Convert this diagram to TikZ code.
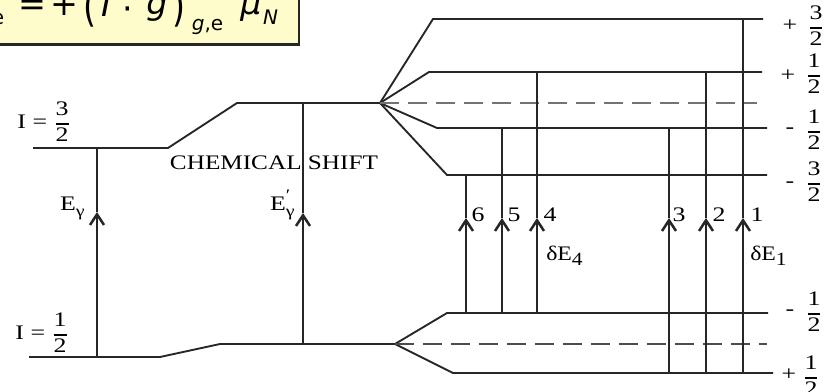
\documentclass[tikz,border=0pt]{standalone}
\usepackage{fontspec}
\setmainfont{Liberation Serif}
\newfontfamily\dvs{DejaVu Sans}[ItalicFont={DejaVu Sans Oblique}]
\usepackage{graphicx}
\usetikzlibrary{arrows.meta}
\newcommand{\sx}[1]{\scalebox{1.25}[1]{#1}}
\newcommand{\fr}[2]{\ensuremath{\displaystyle{\mbox{#1}\above 0.9pt\mbox{#2}}}}
\newcommand{\subsz}{\fontsize{12}{12}\selectfont}
\begin{document}
\begin{tikzpicture}[x=0.75pt,y=-0.75pt,
  font=\fontsize{15.5}{18}\selectfont,
  lvl/.style={draw=black!85,line width=1.4pt},
  dshA/.style={draw=black!55,line width=2.2pt,dash pattern=on 14pt off 7pt},
  dshB/.style={draw=black!70,line width=1.5pt,dash pattern=on 14pt off 7pt},
  trans/.style={draw=black!85,line width=1.4pt},
  arr/.style={trans,-{Straight Barb[length=8pt,width=10.5pt,line width=1.9pt]}},
  lab/.style={inner sep=0pt},
  eqf/.style={inner sep=0pt,anchor=base,font=\dvs\fontsize{25}{25}\selectfont},
  eqs/.style={inner sep=0pt,anchor=base,font=\dvs\fontsize{15}{15}\selectfont},
  box/.style={draw=black!85,line width=1.8pt,fill=yellow!20,inner sep=0pt,outer sep=0pt,
              minimum width=240pt,minimum height=50pt}]
\useasboundingbox (0,0) rectangle (834,392);
\clip (0,0) rectangle (834,392);

% formula box (cropped at the picture's edge)
\node[box,anchor=south east] (fbox) at (299,44.5) {};
\node[eqs] (q1) at (-2,25) {e};
\node[eqf] (q2) at (32,16) {=};
\node[eqf] (q3) at (64.5,16) {+};
\node[eqf] (q4) at (90.5,22) {\scalebox{1}[1.3]{(}};
\node[eqf] (q5) at (106,17) {\itshape I};
\node[eqf] (q6) at (127.5,21) {·};
\node[eqf] (q7) at (157,15) {\itshape g};
\node[eqf] (q8) at (179,22) {\scalebox{1}[1.3]{)}};
\node[eqs] (q9) at (207.5,31) {\itshape g\upshape,e};
\node[eqf] (q10) at (251,15) {\itshape μ};
\node[eqs] (q11) at (270.5,25) {\itshape N};

% coordinates of levels
\coordinate (a1) at (33,148);  \coordinate (a2) at (168,148);
\coordinate (a3) at (237,103); \coordinate (F1) at (380,103);
\coordinate (b1) at (29,357);  \coordinate (b2) at (160,357);
\coordinate (b3) at (220,344); \coordinate (F2) at (395,344);

\coordinate (u32s) at (433,19);  \coordinate (u32e) at (763,19);
\coordinate (u12s) at (429,72);  \coordinate (u12e) at (762,72);
\coordinate (u0e)  at (757,103);
\coordinate (um12s) at (437,128); \coordinate (um12e) at (767,128);
\coordinate (um32s) at (447,175); \coordinate (um32e) at (767,175);

\coordinate (lm12s) at (447,313); \coordinate (lm12e) at (768,313);
\coordinate (l0e)   at (767,344);
\coordinate (lp12s) at (453,373); \coordinate (lp12e) at (773,373);

% chemical shift label (drawn before the line crossing it)
\node[lab,anchor=base] (cs) at (274,170) {\scalebox{1.22}[1]{CHEMICAL SHIFT}};

% levels
\draw[lvl] (a1) -- (a2) -- (a3) -- (F1);
\draw[lvl] (b1) -- (b2) -- (b3) -- (F2);
\draw[lvl] (F1) -- (u32s) -- (u32e);
\draw[lvl] (F1) -- (u12s) -- (u12e);
\draw[lvl] (F1) -- (um12s) -- (um12e);
\draw[lvl] (F1) -- (um32s) -- (um32e);
\draw[dshA] (F1) -- (u0e);
\draw[lvl] (F2) -- (lm12s) -- (lm12e);
\draw[lvl] (F2) -- (lp12s) -- (lp12e);
\draw[dshB] (F2) -- (l0e);

% transitions
\coordinate (gB) at (97,357);  \coordinate (gM) at (97,212);  \coordinate (gT) at (97,148);
\coordinate (hB) at (303,344); \coordinate (hM) at (303,213); \coordinate (hT) at (303,103);
\draw[arr] (gB) -- (gM); \draw[trans] (gM) -- (gT);
\draw[arr] (hB) -- (hM); \draw[trans] (hM) -- (hT);

\coordinate (t6B) at (466,313); \coordinate (t6M) at (466,218); \coordinate (t6T) at (466,175);
\coordinate (t5B) at (502,313); \coordinate (t5M) at (502,218); \coordinate (t5T) at (502,128);
\coordinate (t4B) at (537,313); \coordinate (t4M) at (537,218); \coordinate (t4T) at (537,72);
\coordinate (t3B) at (669,373); \coordinate (t3M) at (669,218); \coordinate (t3T) at (669,128);
\coordinate (t2B) at (706,373); \coordinate (t2M) at (706,218); \coordinate (t2T) at (706,72);
\coordinate (t1B) at (743,373); \coordinate (t1M) at (743,218); \coordinate (t1T) at (743,19);
\foreach \t in {t6,t5,t4,t3,t2,t1}{
  \draw[arr] (\t B) -- (\t M);
  \draw[trans] (\t M) -- (\t T);
}

% left labels
\node[lab] (L32) at (44,122) {\sx{I = \fr{3}{2}}};
\node[lab] (L12) at (42,333) {\sx{I = \fr{1}{2}}};
\node[lab,anchor=base east] (Eg) at (85,210) {\sx{E\raisebox{-0.3em}{\subsz γ}}};
\node[lab,anchor=base east] (Egp) at (295,210) {\sx{E\rlap{\raisebox{0.45em}{\subsz ′}}\raisebox{-0.3em}{\subsz γ}}};

% transition numbers
\node[lab] (n6) at (478,215) {\sx{6}};
\node[lab] (n5) at (514,215) {\sx{5}};
\node[lab] (n4) at (550,215) {\sx{4}};
\node[lab] (n3) at (679,215) {\sx{3}};
\node[lab] (n2) at (719,215) {\sx{2}};
\node[lab] (n1) at (757,215) {\sx{1}};
\node[lab,anchor=base west] (d4) at (546,260) {\scalebox{1.15}[1]{δE\raisebox{-0.25em}{\fontsize{14}{14}\selectfont 4}}};
\node[lab,anchor=base west] (d1) at (750,260) {\scalebox{1.15}[1]{δE\raisebox{-0.25em}{\fontsize{14}{14}\selectfont 1}}};

% right labels
\node[lab] (s1) at (790,26) {\sx{+}};
\node[lab] (f1) at (816,26) {\sx{\fr{3}{2}}};
\node[lab] (s2) at (788,76) {\sx{+}};
\node[lab] (f2) at (814,74) {\sx{\fr{1}{2}}};
\node[lab] (s3) at (790,131) {\sx{-}};
\node[lab] (f3) at (814,130) {\sx{\fr{1}{2}}};
\node[lab] (s4) at (790,185) {\sx{-}};
\node[lab] (f4) at (814,182) {\sx{\fr{3}{2}}};
\node[lab] (s5) at (790,313) {\sx{-}};
\node[lab] (f5) at (814,312) {\sx{\fr{1}{2}}};
\node[lab] (s6) at (789,375) {\sx{+}};
\node[lab] (f6) at (811,376) {\sx{\fr{1}{2}}};
\end{tikzpicture}
\end{document}
